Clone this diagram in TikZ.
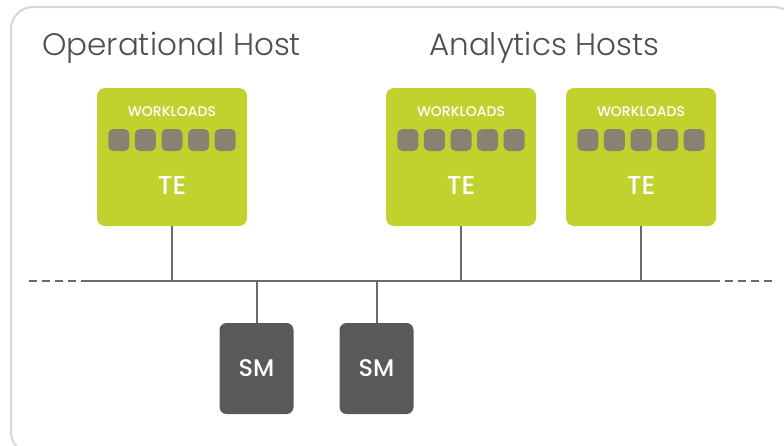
\documentclass[tikz,border=0pt]{standalone}
\usepackage{fontspec}
\setmainfont{Poppins}
\newfontfamily\titlefont{Poppins Light}
\newfontfamily\boxfont{Poppins Medium}
\definecolor{tegreen}{HTML}{C1D22F}
\definecolor{wlgray}{HTML}{8A8170}
\definecolor{smgray}{HTML}{58595B}
\definecolor{linegray}{HTML}{6A6A6A}
\definecolor{framegray}{HTML}{D6D6D6}
\definecolor{titlegray}{HTML}{4A5058}
\tikzset{
  tebox/.style={fill=tegreen, rounded corners=8pt, minimum width=150pt, minimum height=138pt, inner sep=0pt},
  smbox/.style={fill=smgray, rounded corners=7pt, minimum width=74pt, minimum height=91pt, inner sep=0pt, text=white, font=\boxfont\fontsize{24}{24}\selectfont},
  wl/.style={fill=wlgray, rounded corners=5pt, minimum width=21pt, minimum height=22pt, inner sep=0pt},
  wltext/.style={text=white, font=\boxfont\fontsize{14}{14}\selectfont, inner sep=0pt},
  tetext/.style={text=white, font=\boxfont\fontsize{26}{26}\selectfont, inner sep=0pt},
  title/.style={text=titlegray, font=\titlefont\fontsize{31}{31}\selectfont, inner sep=0pt, anchor=west},
  conn/.style={draw=linegray, line width=2pt},
  busdash/.style={draw=linegray, line width=2pt, dash pattern=on 8pt off 5pt}
}
\begin{document}
\begin{tikzpicture}[x=1pt, y=-1pt]
\useasboundingbox (0,0) rectangle (784,445);
\begin{scope}
\clip (0,0) rectangle (784,445);
\draw[framegray, line width=2pt, rounded corners=22pt] (11,7) rectangle (796,454);
\end{scope}
% titles
\node[title] (t1) at (42,48) {Operational Host};
\node[title] (t2) at (429,48) {Analytics Hosts};
% TE boxes
\node[tebox] (te1) at (172,157) {};
\node[tebox] (te2) at (461,157) {};
\node[tebox] (te3) at (641,157) {};
\foreach \b in {1,2,3}{
  \node[wltext] (wt\b) at ([yshift=45pt]te\b.center) {WORKLOADS};
  \node[tetext] (tt\b) at ([yshift=-28pt]te\b.center) {TE};
  \foreach \i in {1,...,5}{
    \node[wl] (w\b\i) at ([xshift={(\i-3)*26.6pt}, yshift=17pt]te\b.center) {};
  }
}
% SM boxes
\node[smbox] (sm1) at (256.5,368.5) {SM};
\node[smbox] (sm2) at (376.5,368.5) {SM};
% bus
\coordinate (busL) at (29,281);
\coordinate (busLs) at (85,281);
\coordinate (busRs) at (712,281);
\coordinate (busR) at (772,281);
\draw[busdash] (busL) -- (busLs);
\draw[conn] (busLs) -- (busRs);
\draw[busdash] (busRs) -- (busR);
% connectors
\draw[conn] (te1.south) -- (te1.south |- busL);
\draw[conn] (te2.south) -- (te2.south |- busL);
\draw[conn] (te3.south) -- (te3.south |- busL);
\draw[conn] (sm1.north) -- (sm1.north |- busL);
\draw[conn] (sm2.north) -- (sm2.north |- busL);
\end{tikzpicture}
\end{document}
